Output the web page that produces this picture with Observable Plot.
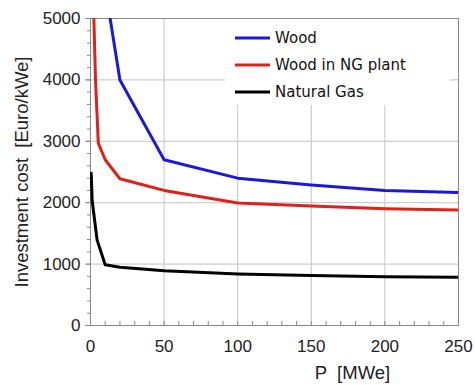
<!DOCTYPE html>
<html>
<head>
<meta charset="utf-8">
<script src="https://cdn.jsdelivr.net/npm/d3@7"></script>
<script src="https://cdn.jsdelivr.net/npm/@observablehq/plot@0.6"></script>
<style>
  html, body { margin: 0; padding: 0; background: #fff; }
</style>
</head>
<body>
<div id="chart"></div>
<script>
// ---- data ----
const seriesNames = ["Wood", "Wood in NG plant", "Natural Gas"];
const seriesColors = ["#1a1ad6", "#e0201a", "#000000"];

const woodP = [10, 20, 50, 100, 150, 200, 250];
const woodCost = [5500, 4000, 2700, 2400, 2290, 2200, 2165];

const woodNGP = [2.3, 3.4, 5.3, 10, 20, 50, 100, 150, 200, 250];
const woodNGCost = [5000, 4000, 2970, 2700, 2390, 2200, 1995, 1945, 1900, 1880];

const gasP = [0.5, 1.1, 4.5, 10, 20, 50, 100, 150, 200, 250];
const gasCost = [2480, 2040, 1390, 990, 950, 890, 840, 815, 795, 785];

const xTicks = [0, 50, 100, 150, 200, 250];
const yTicks = [0, 1000, 2000, 3000, 4000, 5000];
const xLabel = "P  [MWe]";
const yLabel = "Investment cost  [Euro/kWe]";

// ---- build rows ----
const rows = [];
[[woodP, woodCost], [woodNGP, woodNGCost], [gasP, gasCost]].forEach(([ps, cs], i) => {
  ps.forEach((p, j) => rows.push({series: seriesNames[i], p, cost: cs[j]}));
});

const W = 475, H = 385;
const mL = 90, mR = 17, mT = 18, mB = 60;

function legendMark(index, scales, values, dims) {
  const g = d3.create("svg:g");
  const right = dims.width - dims.marginRight;
  const bx = right - 233, by = dims.marginTop + 1;
  g.append("rect")
    .attr("x", bx).attr("y", by)
    .attr("width", 225).attr("height", 86)
    .attr("fill", "white");
  seriesNames.forEach((name, i) => {
    const y = by + 19 + i * 27;
    g.append("line")
      .attr("x1", bx + 10).attr("x2", bx + 45)
      .attr("y1", y).attr("y2", y)
      .attr("stroke", scales.color(name))
      .attr("stroke-width", 3);
    g.append("text")
      .attr("x", bx + 50).attr("y", y)
      .attr("text-anchor", "start")
      .attr("dominant-baseline", "middle")
      .attr("font-family", "'DejaVu Sans', Verdana, sans-serif")
      .attr("font-size", 15)
      .attr("fill", "#111")
      .text(name);
  });
  return g.node();
}

const fmt = d3.format("d");

const chart = Plot.plot({
  width: W,
  height: H,
  marginLeft: mL,
  marginRight: mR,
  marginTop: mT,
  marginBottom: mB,
  style: {fontFamily: "'Liberation Sans', Arial, Helvetica, sans-serif", background: "white", color: "#222"},
  x: {domain: [0, 250], label: null},
  y: {domain: [0, 5000], label: null},
  color: {domain: seriesNames, range: seriesColors},
  marks: [
    Plot.gridX(xTicks.slice(1, -1), {stroke: "#c4c4c4", strokeOpacity: 1}),
    Plot.gridY(yTicks.slice(1, -1), {stroke: "#c4c4c4", strokeOpacity: 1}),
    legendMark,
    Plot.axisY(d3.range(0, 5001, 200), {tickSize: 3, text: null, stroke: "#888", label: null}),
    Plot.axisX(d3.range(0, 251, 10), {tickSize: -4, text: null, stroke: "#888", label: null}),
    Plot.axisY(yTicks, {tickSize: 5, tickPadding: 5, fontSize: 17, label: null, stroke: "#888", tickFormat: fmt}),
    Plot.axisX(xTicks, {tickSize: 0, tickPadding: 14, fontSize: 17, label: null, tickFormat: fmt}),
    Plot.frame({stroke: "#888"}),
    Plot.line(rows, {x: "p", y: "cost", z: "series", stroke: "series", strokeWidth: 3, clip: true, strokeLinejoin: "round"}),
    Plot.text([yLabel], {frameAnchor: "left", textAnchor: "middle", rotate: -90, dx: -68, fontSize: 18.5, fill: "#222"}),
    Plot.text([xLabel], {frameAnchor: "bottom", textAnchor: "middle", dx: 78, dy: 53, fontSize: 18.5, fill: "#222"})
  ]
});

document.getElementById("chart").appendChild(chart);
</script>
</body>
</html>
